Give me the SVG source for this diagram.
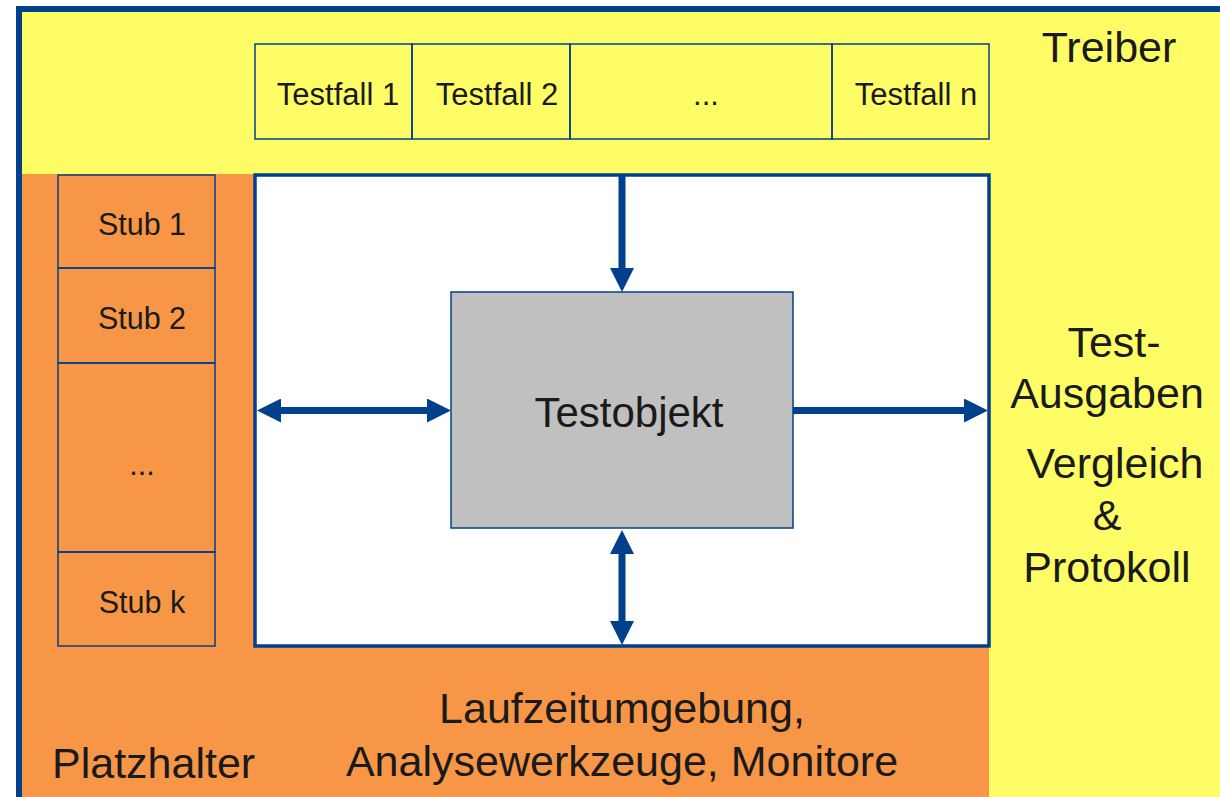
<svg xmlns="http://www.w3.org/2000/svg" width="1220" height="797" viewBox="0 0 1220 797">
  <style>
    text { font-family: "Liberation Sans", Arial, sans-serif; fill: #1a1a1a; }
    .big { font-size: 43px; }
    .mid { font-size: 42px; }
    .small { font-size: 31px; }
    .stubt { font-size: 30.5px; }
    .box { stroke: #00408C; stroke-width: 1.5; }
    .conn { stroke: #00408C; stroke-width: 7; fill: none; }
  </style>
  <defs>
    <marker id="head" viewBox="0 0 24 24" markerWidth="24" markerHeight="24" refX="4" refY="12" markerUnits="userSpaceOnUse" orient="auto-start-reverse">
      <path d="M0,0 L24,12 L0,24 Z" fill="#00408C"/>
    </marker>
  </defs>

  <g id="background">
    <rect x="19" y="9" width="1210" height="800" fill="#FFFD66" stroke="#00408C" stroke-width="6"/>
    <rect x="22" y="174" width="967" height="623" fill="#F79646"/>
  </g>

  <g id="treiber">
    <text class="big" x="1109" y="62" text-anchor="middle">Treiber</text>
  </g>

  <g id="testfall1">
    <rect class="box" x="255" y="44" width="157" height="95" fill="none"/>
    <text class="small" x="338" y="105" text-anchor="middle">Testfall 1</text>
  </g>
  <g id="testfall2">
    <rect class="box" x="412" y="44" width="158" height="95" fill="none"/>
    <text class="small" x="497" y="105" text-anchor="middle">Testfall 2</text>
  </g>
  <g id="testfall-dots">
    <rect class="box" x="570" y="44" width="262" height="95" fill="none"/>
    <text class="small" x="706" y="105" text-anchor="middle">...</text>
  </g>
  <g id="testfalln">
    <rect class="box" x="832" y="44" width="157" height="95" fill="none"/>
    <text class="small" x="916" y="105" text-anchor="middle">Testfall n</text>
  </g>

  <g id="testumgebung">
    <rect x="255" y="175" width="734" height="471" fill="#FFFFFF" stroke="#00408C" stroke-width="3.5"/>
  </g>

  <g id="stub1">
    <rect class="box" x="58" y="175" width="157" height="93" fill="none"/>
    <text class="stubt" x="142" y="235" text-anchor="middle">Stub 1</text>
  </g>
  <g id="stub2">
    <rect class="box" x="58" y="268" width="157" height="95" fill="none"/>
    <text class="stubt" x="142" y="329" text-anchor="middle">Stub 2</text>
  </g>
  <g id="stub-dots">
    <rect class="box" x="58" y="363" width="157" height="189" fill="none"/>
    <text class="stubt" x="142" y="475" text-anchor="middle">...</text>
  </g>
  <g id="stubk">
    <rect class="box" x="58" y="552" width="157" height="94" fill="none"/>
    <text class="stubt" x="142" y="613" text-anchor="middle">Stub k</text>
  </g>

  <g id="testobjekt">
    <rect class="box" x="451" y="292" width="342" height="236" fill="#C0C0C0"/>
    <text class="mid" x="629" y="427" text-anchor="middle">Testobjekt</text>
  </g>

  <g id="connectors">
    <line class="conn" x1="622" y1="176" x2="622" y2="272" marker-end="url(#head)"/>
    <line class="conn" x1="277" y1="410.5" x2="431" y2="410.5" marker-start="url(#head)" marker-end="url(#head)"/>
    <line class="conn" x1="793" y1="410.5" x2="968" y2="410.5" marker-end="url(#head)"/>
    <line class="conn" x1="622" y1="550" x2="622" y2="625" marker-start="url(#head)" marker-end="url(#head)"/>
  </g>

  <g id="ausgaben">
    <text class="big" x="1114" y="357" text-anchor="middle">Test-</text>
    <text class="big" x="1107" y="408" text-anchor="middle">Ausgaben</text>
    <text class="big" x="1115" y="478" text-anchor="middle">Vergleich</text>
    <text class="big" x="1107" y="530" text-anchor="middle">&amp;</text>
    <text class="big" x="1107" y="582" text-anchor="middle">Protokoll</text>
  </g>

  <g id="laufzeit">
    <text class="big" x="622" y="723" text-anchor="middle">Laufzeitumgebung,</text>
    <text class="big" x="622" y="776" text-anchor="middle">Analysewerkzeuge, Monitore</text>
  </g>

  <g id="platzhalter">
    <text class="big" x="52" y="778">Platzhalter</text>
  </g>
</svg>
